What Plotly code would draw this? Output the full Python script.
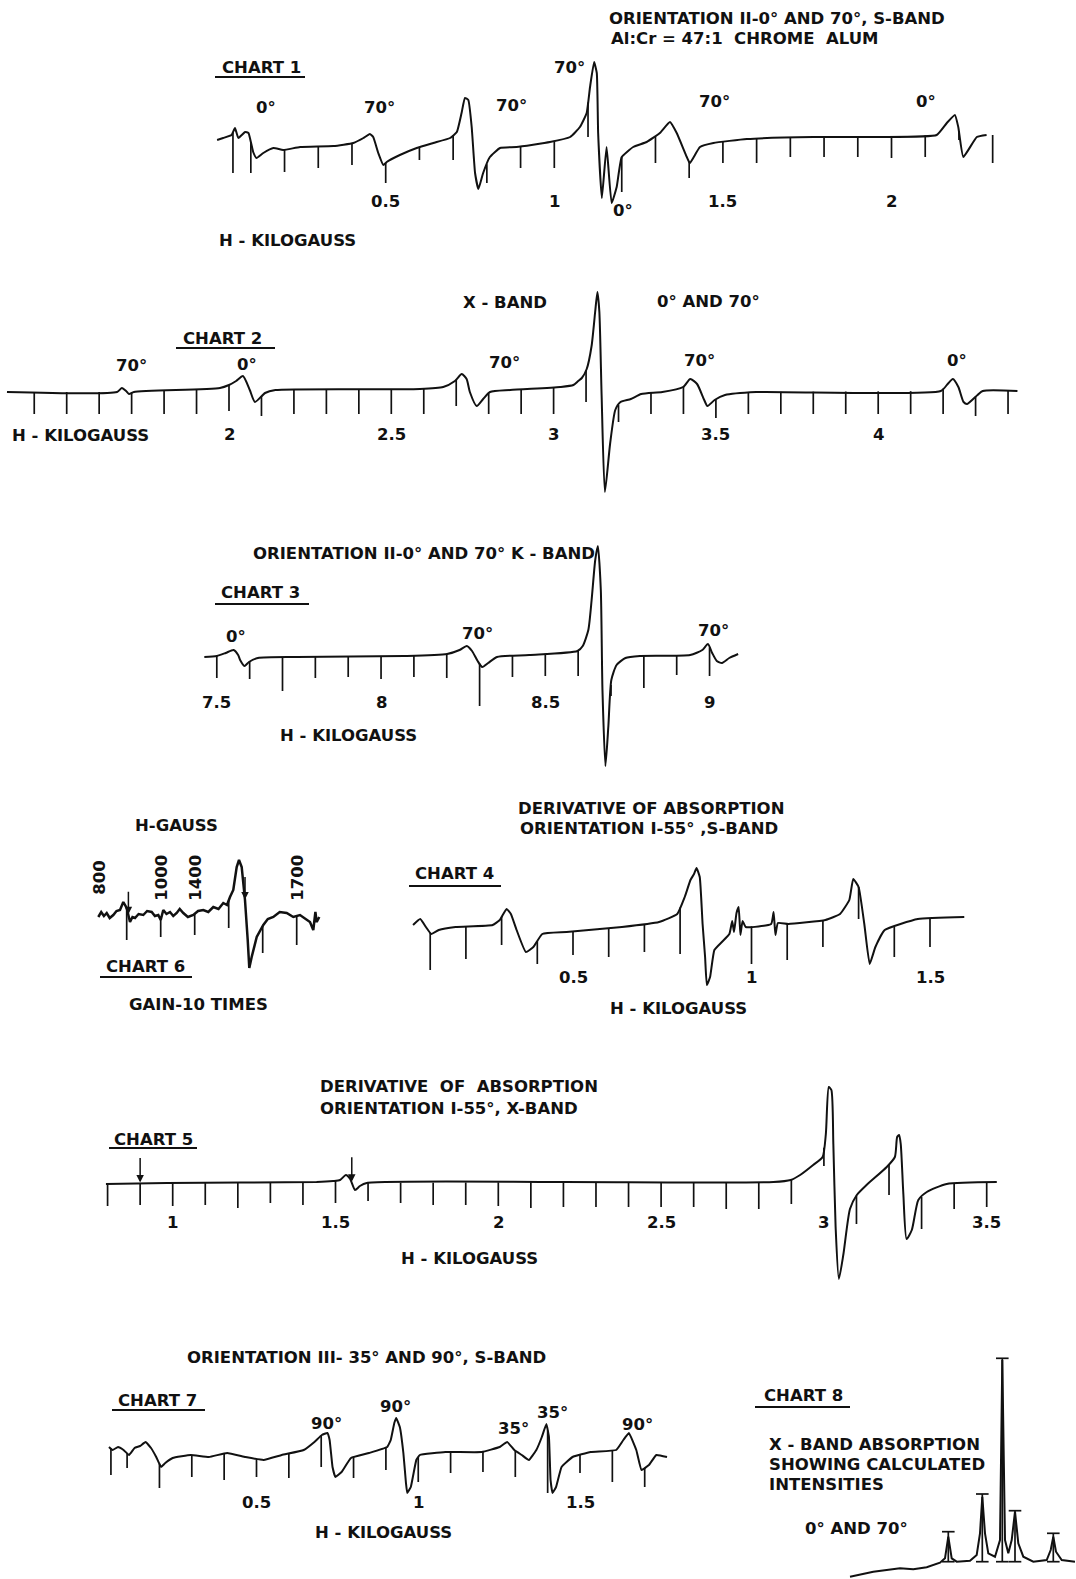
import numpy as np
import plotly.graph_objects as go

W, HGT = 1076, 1579
INK = "#111111"
FONT = "DejaVu Sans"
FS = 16.5

# ---------------- DATA ----------------
# Chart 1 : S-band, orientation II (H in kilogauss, signal in arbitrary units)
c1_h = [0.000, 0.018, 0.043, 0.053, 0.063, 0.083, 0.093, 0.107, 0.117, 0.137,
        0.167, 0.196, 0.246, 0.345, 0.404, 0.434, 0.453, 0.463, 0.478, 0.493,
        0.503, 0.542, 0.592, 0.641, 0.691, 0.711, 0.725, 0.735, 0.745, 0.755,
        0.765, 0.775, 0.789, 0.809, 0.839, 0.888, 0.987, 1.047, 1.076, 1.096,
        1.106, 1.118, 1.126, 1.130, 1.141, 1.155, 1.170, 1.185, 1.200, 1.234,
        1.274, 1.313, 1.343, 1.363, 1.393, 1.402, 1.432, 1.472, 1.571, 1.768,
        1.966, 2.134, 2.164, 2.188, 2.198, 2.213, 2.253, 2.282]
c1_s = [5, 7, 10, 17, 7, 13, 12, -7, -13, -8,
        -3, -5, -2, -1, 2, 7, 11, 8, -8, -20,
        -17, -10, -3, 2, 7, 13, 32, 47, 45, 18,
        -28, -44, -28, -12, -3, -2, 3, 8, 18, 32,
        58, 83, 72, 12, -53, -2, -58, -42, -12, -2,
        3, 12, 23, 12, -12, -18, -2, 2, 6, 8,
        8, 10, 22, 30, 18, -12, 8, 10]
c1_ticks = [0.047, 0.1, 0.2, 0.3, 0.4, 0.5, 0.6, 0.7, 0.8, 0.9, 1.0, 1.1,
            1.2, 1.3, 1.4, 1.5, 1.6, 1.7, 1.8, 1.9, 2.0, 2.1, 2.2, 2.3]
c1_tick_bot = [-28, -28, -27, -23, -20, -38, -15, -15, -38, -23, -23, 8,
               -47, -18, -33, -18, -18, -12, -12, -12, -13, -12, 5, -18]
c1_label_vals = [0.5, 1.0, 1.5, 2.0]
c1_labels = ["0.5", "1", "1.5", "2"]

# Chart 2 : X-band
c2_h = [1.316, 1.655, 1.670, 1.683, 1.692, 1.707, 1.972, 2.000, 2.022, 2.043,
        2.064, 2.080, 2.111, 2.143, 2.588, 2.660, 2.696, 2.717, 2.732, 2.742,
        2.763, 2.783, 2.804, 2.866, 3.020, 3.061, 3.076, 3.087, 3.102, 3.117,
        3.128, 3.135, 3.141, 3.148, 3.158, 3.174, 3.190, 3.206, 3.238, 3.270,
        3.335, 3.399, 3.421, 3.442, 3.464, 3.474, 3.496, 3.528, 3.624, 4.193,
        4.214, 4.230, 4.247, 4.263, 4.274, 4.306, 4.322, 4.429]
c2_s = [0, 0, 4, 1, -2, 0, 4, 7, 11, 16,
        2, -10, -1, 2, 3, 5, 11, 18, 13, 0,
        -14, -7, 0, 2, 5, 7, 11, 14, 23, 46,
        80, 100, 80, -4, -100, -52, -18, -10, -7, -2,
        0, 5, 13, 8, -8, -14, -8, -3, 0, 1,
        8, 13, 5, -10, -12, -3, 1, 1]
c2_ticks = [1.4, 1.5, 1.6, 1.7, 1.8, 1.9, 2.0, 2.1, 2.2, 2.3, 2.4, 2.5, 2.6,
            2.7, 2.8, 2.9, 3.0, 3.1, 3.2, 3.3, 3.4, 3.5, 3.6, 3.7, 3.8, 3.9,
            4.0, 4.1, 4.2, 4.3, 4.4]
c2_tick_bot = [-22, -22, -22, -22, -22, -22, -19, -24, -22, -22, -22, -22, -22,
               -14, -22, -22, -22, -10, -30, -22, -22, -26, -22, -22, -22, -22,
               -22, -22, -22, -24, -22]
c2_label_vals = [2.0, 2.5, 3.0, 3.5, 4.0]
c2_labels = ["2", "2.5", "3", "3.5", "4"]

# Chart 3 : K-band
c3_h = [7.462, 7.500, 7.527, 7.551, 7.565, 7.571, 7.584, 7.598, 7.625, 7.744,
        8.071, 8.201, 8.239, 8.261, 8.277, 8.294, 8.308, 8.326, 8.353, 8.451,
        8.598, 8.614, 8.631, 8.641, 8.652, 8.660, 8.669, 8.674, 8.683, 8.692,
        8.701, 8.717, 8.744, 8.788, 8.941, 8.978, 8.995, 9.008, 9.022, 9.038,
        9.060, 9.087]
c3_s = [0, 1, 4, 7, 2, -3, -9, -5, -1, 0,
        1, 3, 7, 11, 6, -4, -10, -6, 0, 2,
        6, 11, 27, 57, 97, 111, 67, -33, -109, -69,
        -23, -8, -1, 1, 2, 7, 13, 4, -4, -6,
        -1, 3]
c3_ticks = [7.5, 7.6, 7.7, 7.8, 7.9, 8.0, 8.1, 8.2, 8.3, 8.4, 8.5, 8.6,
            8.7, 8.8, 8.9, 9.0]
c3_tick_bot = [-21, -22, -34, -21, -20, -22, -20, -21, -49, -20, -19, -19,
               -39, -31, -18, -19]
c3_label_vals = [7.5, 8.0, 8.5, 9.0]
c3_labels = ["7.5", "8", "8.5", "9"]

# Chart 6 : gain x10 (sweep in chart divisions; H in gauss marked on it)
c6_u = [0.165, 0.25, 0.33, 0.412, 0.50, 0.606, 0.70, 0.803, 0.900, 1.000,
        1.097, 1.17, 1.244, 1.35, 1.488, 1.60, 1.735, 1.83, 1.929, 2.00,
        2.076, 2.17, 2.274, 2.37, 2.471, 2.56, 2.665, 2.80, 2.959, 3.10,
        3.253, 3.40, 3.547, 3.70, 3.841, 3.95, 4.038, 4.135, 4.235, 4.303,
        4.382, 4.479, 4.559, 4.606, 4.676, 4.824, 5.018, 5.15, 5.312, 5.50,
        5.706, 5.90, 6.097, 6.25, 6.391, 6.488, 6.55, 6.588, 6.665]
c6_s = [-2, 3, -1, 2, -3, 0, 4, 5, 13, 7,
        -7, -2, -3, 1, 0, 4, 3, -1, 0, -5,
        5, 1, 3, -1, 2, 6, 2, -2, 0, 4,
        5, 3, 8, 6, 12, 10, 18, 25, 48, 55,
        48, 15, -25, -53, -42, -22, -10, -4, -2, 3,
        2, -2, 0, -4, -7, -15, 3, -7, -2]
c6_ticks = [1, 2, 3, 4, 5, 6]
c6_tick_bot = [-25, -22, -20, -13, -38, -30]
c6_label_pos = [0.18, 2.0, 3.0, 6.0]
c6_labels = ["800", "1000", "1400", "1700"]
c6_arrows = [1.05, 4.48]

# Chart 4 : S-band, orientation I
c4_h = [0.052, 0.072, 0.088, 0.103, 0.124, 0.171, 0.275, 0.295, 0.314, 0.326,
        0.342, 0.368, 0.389, 0.414, 0.482, 0.637, 0.741, 0.792, 0.813, 0.829,
        0.839, 0.846, 0.855, 0.863, 0.870, 0.875, 0.884, 0.896, 0.917, 0.938,
        0.946, 0.951, 0.958, 0.964, 0.969, 0.975, 0.984, 1.055, 1.062, 1.067,
        1.074, 1.103, 1.207, 1.248, 1.274, 1.285, 1.300, 1.316, 1.331, 1.347,
        1.373, 1.466, 1.596]
c4_s = [2, 8, 0, -7, -3, 0, 2, 7, 18, 13,
        -3, -25, -20, -7, -5, 0, 5, 13, 30, 47,
        53, 59, 50, 3, -30, -58, -50, -23, -15, -7,
        6, -5, 14, 20, -8, 6, 0, 3, 15, -8,
        4, 3, 7, 13, 27, 48, 40, 3, -37, -20,
        -3, 8, 10]
c4_ticks = [0.1, 0.2, 0.3, 0.4, 0.5, 0.6, 0.7, 0.8, 1.0, 1.1, 1.2, 1.3, 1.4, 1.5]
c4_tick_bot = [-43, -32, -18, -37, -28, -30, -25, -27, -37, -33, -20, 8, -30, -20]
c4_label_vals = [0.5, 1.0, 1.5]
c4_labels = ["0.5", "1", "1.5"]

# Chart 5 : X-band, orientation I
c5_h = [0.795, 0.982, 1.442, 1.493, 1.514, 1.532, 1.545, 1.560, 1.575, 1.596,
        2.189, 2.845, 2.898, 2.927, 2.967, 2.996, 3.006, 3.015, 3.023, 3.029,
        3.036, 3.046, 3.060, 3.080, 3.101, 3.131, 3.193, 3.218, 3.225, 3.231,
        3.236, 3.244, 3.254, 3.270, 3.290, 3.316, 3.377, 3.531]
c5_s = [-1, 0, 1, 2, 3, 8, 4, -7, -3, 0,
        1, 1, 3, 8, 18, 26, 49, 96, 93, 39,
        -44, -96, -71, -26, -12, -2, 16, 26, 46, 48,
        39, -11, -56, -47, -17, -9, -1, 1]
c5_ticks = [0.8, 0.9, 1.0, 1.1, 1.2, 1.3, 1.4, 1.5, 1.6, 1.7, 1.8, 1.9, 2.0,
            2.1, 2.2, 2.3, 2.4, 2.5, 2.6, 2.7, 2.8, 2.9, 3.0, 3.1, 3.2, 3.3,
            3.4, 3.5]
c5_tick_bot = [-23, -22, -23, -22, -25, -20, -22, -20, -18, -20, -22, -22, -23,
               -25, -24, -24, -24, -24, -24, -26, -26, -21, 17, -41, -12, -46,
               -26, -24]
c5_label_vals = [1.0, 1.5, 2.0, 2.5, 3.0, 3.5]
c5_labels = ["1", "1.5", "2", "2.5", "3", "3.5"]
c5_arrows = [0.9, 1.55]

# Chart 7 : S-band, orientation III
c7_h = [0.044, 0.055, 0.072, 0.089, 0.106, 0.123, 0.140, 0.157, 0.174, 0.190,
        0.205, 0.218, 0.241, 0.297, 0.353, 0.409, 0.466, 0.522, 0.578, 0.646,
        0.679, 0.702, 0.719, 0.726, 0.735, 0.744, 0.763, 0.792, 0.848, 0.904,
        0.915, 0.926, 0.932, 0.943, 0.954, 0.962, 0.966, 0.977, 0.994, 1.005,
        1.084, 1.196, 1.252, 1.275, 1.297, 1.320, 1.342, 1.365, 1.382, 1.396,
        1.404, 1.409, 1.415, 1.426, 1.443, 1.477, 1.533, 1.612, 1.634, 1.651,
        1.674, 1.690, 1.713, 1.736, 1.769]
c7_s = [8, 5, 8, 5, 0, 7, 9, 13, 7, -2,
        -12, -8, -3, 0, -2, 2, -2, -5, 0, 5,
        13, 20, 22, 15, -12, -22, -17, -3, 2, 8,
        15, 32, 37, 28, 2, -28, -38, -32, -5, 0,
        3, 3, 8, 13, 5, 0, -5, 5, 18, 31,
        18, -25, -38, -32, -12, -2, 3, 5, 15, 22,
        5, -15, -10, 0, -2]
c7_ticks = [0.05, 0.1, 0.2, 0.3, 0.4, 0.5, 0.6, 0.7, 0.8, 0.9, 1.0, 1.1, 1.2,
            1.3, 1.4, 1.5, 1.6, 1.7]
c7_tick_bot = [-20, -13, -33, -22, -25, -22, -23, -12, -23, -15, -27, -18, -17,
               -22, -38, -18, -27, -32]
c7_label_vals = [0.5, 1.0, 1.5]
c7_labels = ["0.5", "1", "1.5"]

# Chart 8 : X-band absorption with calculated intensities (arbitrary units)
c8_x = [0, 23.3, 50, 63.3, 76.7, 90, 95, 98.3, 101.7, 106.7,
        120, 126.7, 130, 132.3, 135, 138.3, 145, 150, 152.3, 155,
        158.3, 161.7, 165, 168.3, 173.3, 183.3, 196.7, 200.7, 203.3, 206,
        211.7, 225]
c8_y = [0.3, 5.3, 8.7, 7.7, 9.7, 14.3, 18.7, 40.3, 18.7, 15.3,
        16.3, 22, 43.7, 80.3, 43.7, 23.7, 20.3, 37, 217, 37,
        23.7, 37, 65.3, 33.7, 20.3, 15.3, 17, 27, 40.3, 25.3,
        17, 15.3]
c8_bar_x = [98.3, 132.3, 152.3, 165, 203.3]
c8_bar_top = [45.3, 83, 218.7, 66.3, 43.7]
c8_bar_base = [15.3, 15.3, 15.3, 15.3, 15.3]

# ---------------- LAYOUT CALIBRATION (unit anchor, pixel anchor, px per unit, baseline row) ----
CAL = {
    1: (0.5, 385.7, 337.2, 145),
    2: (2.0, 229.0, 324.6, 392),
    3: (7.5, 216.8, 328.5, 657),
    4: (1.0, 751.5, 357.0, 927),
    5: (1.0, 172.7, 325.6, 1183),
    6: (1.0, 126.7, 34.0, 915),
    7: (0.5, 256.5, 323.5, 1455),
    8: (0.0, 850.0, 1.0, 1577),
}


def ax_names(k):
    return ("x", "y") if k == 1 else (f"x{k}", f"y{k}")


fig = go.Figure()
layout_axes = {}
for k, (href, pref, ppu, base) in CAL.items():
    xn, yn = ax_names(k)
    xkey = "xaxis" if k == 1 else f"xaxis{k}"
    ykey = "yaxis" if k == 1 else f"yaxis{k}"
    layout_axes[xkey] = dict(domain=[0, 1], range=[href - pref / ppu, href + (W - pref) / ppu],
                             visible=False, anchor=yn, fixedrange=True)
    layout_axes[ykey] = dict(domain=[0, 1], range=[base - HGT, base],
                             visible=False, anchor=xn, fixedrange=True)

TLINE = dict(color=INK, width=1.7)


def add_chart(k, h, s, ticks, bots, width=2.0, smooth=0.0):
    xn, yn = ax_names(k)
    line = dict(color=INK, width=width)
    if smooth > 0:
        line.update(shape="spline", smoothing=smooth)
    fig.add_trace(go.Scatter(x=h, y=s, mode="lines", line=line,
                             xaxis=xn, yaxis=yn, hoverinfo="skip", showlegend=False))
    tops = np.interp(ticks, h, s)
    xs, ys = [], []
    for t, top, b in zip(ticks, tops, bots):
        xs += [t, t, None]
        ys += [float(top), b, None]
    fig.add_trace(go.Scatter(x=xs, y=ys, mode="lines", line=TLINE, xaxis=xn, yaxis=yn,
                             hoverinfo="skip", showlegend=False))


add_chart(1, c1_h, c1_s, c1_ticks, c1_tick_bot, smooth=0.4)
add_chart(2, c2_h, c2_s, c2_ticks, c2_tick_bot, smooth=0.6)
add_chart(3, c3_h, c3_s, c3_ticks, c3_tick_bot, smooth=0.6)
add_chart(4, c4_h, c4_s, c4_ticks, c4_tick_bot, smooth=0.4)
add_chart(5, c5_h, c5_s, c5_ticks, c5_tick_bot, smooth=0.6)
add_chart(6, c6_u, c6_s, c6_ticks, c6_tick_bot, width=2.5)
add_chart(7, c7_h, c7_s, c7_ticks, c7_tick_bot, smooth=0.3)

# chart 8 curve and calculated-intensity bars
fig.add_trace(go.Scatter(x=c8_x, y=c8_y, mode="lines", line=dict(color=INK, width=2.0),
                         xaxis="x8", yaxis="y8", hoverinfo="skip", showlegend=False))
bx, by = [], []
for x, t, b in zip(c8_bar_x, c8_bar_top, c8_bar_base):
    bx += [x, x, None]
    by += [b, t, None]
fig.add_trace(go.Scatter(x=bx, y=by, mode="lines+markers", line=TLINE,
                         marker=dict(symbol="line-ew", size=9, line=dict(width=1.7, color=INK)),
                         xaxis="x8", yaxis="y8", hoverinfo="skip", showlegend=False))

ann = []


def txt(s, px, py, anchor="center", size=FS, angle=0):
    ann.append(dict(text="<b>" + s + "</b>", xref="paper", yref="paper", x=px / W,
                    y=1 - py / HGT, xanchor=anchor, yanchor="middle", showarrow=False,
                    textangle=angle, font=dict(family=FONT, size=size, color=INK)))


def tick_labels(k, vals, labels, py):
    xn, yn = ax_names(k)
    base = CAL[k][3]
    for v, l in zip(vals, labels):
        ann.append(dict(text="<b>" + l + "</b>", xref=xn, yref=yn, x=v, y=base - py,
                        xanchor="center", yanchor="middle", showarrow=False,
                        font=dict(family=FONT, size=FS, color=INK)))


def arrows(k, vals, h, s, length):
    xn, yn = ax_names(k)
    for v in vals:
        ann.append(dict(text="", xref=xn, yref=yn, x=v, y=float(np.interp(v, h, s)) + 1,
                        ax=0, ay=-length, showarrow=True, arrowhead=2, arrowsize=1,
                        arrowwidth=1.5, arrowcolor=INK))


shapes = []


def underline(x0, x1, py):
    shapes.append(dict(type="line", xref="paper", yref="paper", x0=x0 / W, x1=x1 / W,
                       y0=1 - py / HGT, y1=1 - py / HGT, line=dict(color=INK, width=1.8)))


# Chart 1 text
txt("ORIENTATION II-0° AND 70°, S-BAND", 607, 18, "left")
txt("Al:Cr = 47:1  CHROME  ALUM", 609, 39, "left")
txt("CHART 1", 220, 68, "left"); underline(215, 305, 77)
for s_, x_, y_ in [("0°", 266, 108), ("70°", 379, 107), ("70°", 511, 105), ("70°", 569, 68),
                   ("0°", 623, 210), ("70°", 715, 102), ("0°", 926, 101)]:
    txt(s_, x_, y_)
tick_labels(1, c1_label_vals, c1_labels, 201)
txt("H - KILOGAUSS", 217, 240, "left")

# Chart 2 text
txt("X - BAND", 505, 303)
txt("0° AND 70°", 708, 301)
txt("CHART 2", 181, 338, "left"); underline(176, 275, 348)
for s_, x_, y_ in [("70°", 131, 366), ("0°", 247, 364), ("70°", 504, 362), ("70°", 699, 361),
                   ("0°", 957, 361)]:
    txt(s_, x_, y_)
tick_labels(2, c2_label_vals, c2_labels, 434)
txt("H - KILOGAUSS", 80, 435)

# Chart 3 text
txt("ORIENTATION II-0° AND 70° K - BAND", 424, 554)
txt("CHART 3", 219, 592, "left"); underline(215, 309, 604)
for s_, x_, y_ in [("0°", 236, 636), ("70°", 477, 633), ("70°", 713, 630)]:
    txt(s_, x_, y_)
tick_labels(3, c3_label_vals, c3_labels, 702)
txt("H - KILOGAUSS", 348, 736)

# Chart 6 text
txt("H-GAUSS", 176, 825)
for v, l in zip(c6_label_pos, c6_labels):
    ann.append(dict(text="<b>" + l + "</b>", xref="x6", yref="y6", x=v, y=CAL[6][3] - 878,
                    xanchor="center", yanchor="middle", showarrow=False, textangle=-90,
                    font=dict(family=FONT, size=FS, color=INK)))
arrows(6, c6_arrows, c6_u, c6_s, 24)
txt("CHART 6", 104, 966, "left"); underline(100, 192, 977)
txt("GAIN-10 TIMES", 198, 1004)

# Chart 4 text
txt("DERIVATIVE OF ABSORPTION", 516, 808, "left")
txt("ORIENTATION I-55° ,S-BAND", 518, 828, "left")
txt("CHART 4", 413, 873, "left"); underline(409, 501, 886)
tick_labels(4, c4_label_vals, c4_labels, 977)
txt("H - KILOGAUSS", 678, 1008)

# Chart 5 text
txt("DERIVATIVE  OF  ABSORPTION", 318, 1086, "left")
txt("ORIENTATION I-55°, X-BAND", 318, 1108, "left")
txt("CHART 5", 112, 1139, "left"); underline(109, 197, 1148)
tick_labels(5, c5_label_vals, c5_labels, 1222)
arrows(5, c5_arrows, c5_h, c5_s, 26)
txt("H - KILOGAUSS", 469, 1258)

# Chart 7 text
txt("ORIENTATION III- 35° AND 90°, S-BAND", 366, 1357)
txt("CHART 7", 116, 1400, "left"); underline(112, 205, 1410)
for s_, x_, y_ in [("90°", 326, 1423), ("90°", 395, 1406), ("35°", 513, 1428),
                   ("35°", 552, 1412), ("90°", 637, 1424)]:
    txt(s_, x_, y_)
tick_labels(7, c7_label_vals, c7_labels, 1502)
txt("H - KILOGAUSS", 383, 1532)

# Chart 8 text
txt("CHART 8", 762, 1395, "left"); underline(755, 850, 1407)
txt("X - BAND ABSORPTION", 767, 1444, "left")
txt("SHOWING CALCULATED", 767, 1464, "left")
txt("INTENSITIES", 767, 1484, "left")
txt("0° AND 70°", 803, 1528, "left")

fig.update_layout(width=W, height=HGT, margin=dict(l=0, r=0, t=0, b=0, pad=0),
                  paper_bgcolor="white", plot_bgcolor="rgba(0,0,0,0)",
                  showlegend=False, annotations=ann, shapes=shapes, **layout_axes)

fig.write_html("out.html", config={"displayModeBar": False, "staticPlot": True})
